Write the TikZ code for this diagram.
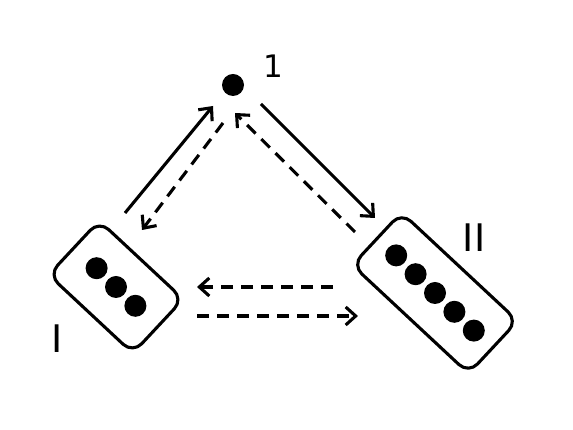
\documentclass[tikz,border=0pt]{standalone}
\usepackage{fontspec}
\setmainfont{DejaVu Sans}
\usetikzlibrary{arrows.meta}
\tikzset{
  line/.style={line width=3.1pt, -{Straight Barb[length=10pt,width=18pt,line width=3.1pt]}},
  box/.style={draw, line width=3.1pt, rounded corners=13pt, rotate=-43, inner sep=0pt},
  ball/.style={circle, fill=black, minimum size=22pt, inner sep=0pt},
  lab/.style={font=\fontsize{38}{40}\selectfont},
}
\begin{document}
\begin{tikzpicture}[x=1pt,y=1pt]
\useasboundingbox (0,0) rectangle (573,430);
% central atom
\node[ball] (dot1) at (233,345) {};
\node[font=\fontsize{31}{33}\selectfont] (lab1) at (273,364) {1};
% box I
\node[box, minimum width=115pt, minimum height=74pt] (boxI) at (116,143) {};
\node[ball] (a1) at (96.6,161.8) {};
\node[ball] (a2) at (116,143) {};
\node[ball] (a3) at (135.4,124.2) {};
\node[lab] (labI) at (57,91) {I};
% box II
\node[box, minimum width=159pt, minimum height=72pt] (boxII) at (435,137) {};
\node[ball] (b1) at (396.2,174.6) {};
\node[ball] (b2) at (415.6,155.8) {};
\node[ball] (b3) at (435,137) {};
\node[ball] (b4) at (454.4,118.2) {};
\node[ball] (b5) at (473.8,99.4) {};
\node[lab] (labII) at (474,192) {II};
% connector ends
\coordinate (p1) at (125,217); \coordinate (p2) at (213,324);
\coordinate (q1) at (223,307); \coordinate (q2) at (142,200);
\coordinate (r1) at (261,326); \coordinate (r2) at (375,212);
\coordinate (s1) at (355,198); \coordinate (s2) at (235,317);
\coordinate (t1) at (333,143); \coordinate (t2) at (197,143);
\coordinate (u1) at (197,114); \coordinate (u2) at (358,114);
\draw[line] (p1) -- (p2);
\draw[line, dash pattern=on 12pt off 8pt] (q1) -- (q2);
\draw[line] (r1) -- (r2);
\draw[line, dash pattern=on 12pt off 8pt] (s1) -- (s2);
\draw[line, dash pattern=on 12pt off 8pt] (t1) -- (t2);
\draw[line, dash pattern=on 12pt off 8pt] (u1) -- (u2);
\end{tikzpicture}
\end{document}
